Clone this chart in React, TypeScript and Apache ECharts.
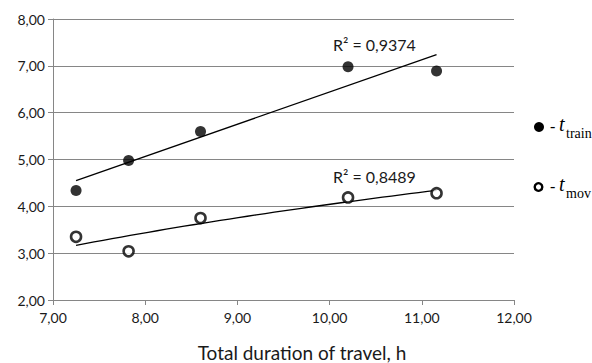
import React, { useEffect, useRef } from "react";
import * as echarts from "echarts";

const durations = [7.25, 7.82, 8.6, 10.2, 11.16];
const tTrain = [4.34, 4.98, 5.6, 6.98, 6.89];
const tMov = [3.35, 3.04, 3.75, 4.19, 4.28];
const r2Labels = ["R² = 0,9374", "R² = 0,8489"];
const legendNames = ["train", "mov"];
const xTitle = "Total duration of travel, h";

function linearFit(xs: number[], ys: number[]) {
  const n = xs.length;
  const mx = xs.reduce((a, b) => a + b, 0) / n;
  const my = ys.reduce((a, b) => a + b, 0) / n;
  let sxy = 0, sxx = 0;
  for (let i = 0; i < n; i++) { sxy += (xs[i] - mx) * (ys[i] - my); sxx += (xs[i] - mx) ** 2; }
  const b = sxy / sxx;
  return (x: number) => my + b * (x - mx);
}
function logFit(xs: number[], ys: number[]) {
  const lx = xs.map(Math.log);
  const f = linearFit(lx, ys);
  return (x: number) => f(Math.log(x));
}

export default function App() {
  const ref = useRef<HTMLDivElement>(null);
  useEffect(() => {
    const chart = echarts.init(ref.current!, null, { renderer: "svg" });
    const x0 = Math.min(...durations), x1 = Math.max(...durations);
    const lin = linearFit(durations, tTrain);
    const lg = logFit(durations, tMov);
    const steps = 40;
    const trainTrend: number[][] = [];
    const movTrend: number[][] = [];
    for (let i = 0; i <= steps; i++) {
      const x = x0 + ((x1 - x0) * i) / steps;
      if (i === 0 || i === steps) trainTrend.push([x, lin(x)]);
      movTrend.push([x, lg(x)]);
    }
    const axisColor = "#868686";
    const txt = "#1a1a1a";
    const labelFont = { fontFamily: "Lato", fontSize: 14, color: txt };
    const fmt = (v: number) => v.toFixed(2).replace(".", ",");
    const serif = "Liberation Serif";
    const legendText = (y: number, sub: string) => [
      { type: "text", left: 550, top: y - 9, style: { text: "-", font: `16px ${serif}`, fill: "#000" } },
      { type: "text", left: 559, top: y - 13, style: { text: "t", font: `italic 20px ${serif}`, fill: "#000" } },
      { type: "text", left: 566, top: y - 1, style: { text: sub, font: `14px ${serif}`, fill: "#000" } },
    ];
    chart.setOption({
      animation: false,
      grid: { left: 53, right: 78, top: 19, bottom: 63 },
      xAxis: {
        type: "value", min: 7, max: 12, interval: 1,
        axisLine: { lineStyle: { color: axisColor, width: 1 } },
        axisTick: { show: true, length: 5, lineStyle: { color: axisColor } },
        axisLabel: { ...labelFont, formatter: fmt, margin: 10 },
        splitLine: { show: false },
      },
      yAxis: {
        type: "value", min: 2, max: 8, interval: 1,
        axisLine: { show: true, lineStyle: { color: axisColor, width: 1 } },
        axisTick: { show: true, length: 5, lineStyle: { color: axisColor } },
        axisLabel: { ...labelFont, formatter: fmt, margin: 8 },
        splitLine: { show: true, lineStyle: { color: axisColor, width: 1 } },
      },
      series: [
        { type: "line", data: trainTrend, showSymbol: false, lineStyle: { color: "#000", width: 1.3 }, z: 2 },
        { type: "line", data: movTrend, showSymbol: false, smooth: false, lineStyle: { color: "#000", width: 1.3 }, z: 2 },
        {
          type: "scatter", name: "train", data: durations.map((x, i) => [x, tTrain[i]]),
          symbol: "circle", symbolSize: 11, itemStyle: { color: "#000" }, z: 3,
        },
        {
          type: "scatter", name: "mov", data: durations.map((x, i) => [x, tMov[i]]),
          symbol: "circle", symbolSize: 10, itemStyle: { color: "#fff", borderColor: "#000", borderWidth: 2.6 }, z: 3,
        },
      ],
      graphic: [
        { type: "text", x: 302, y: 352, style: { text: xTitle, font: "19px Lato", fill: txt, textAlign: "center", textVerticalAlign: "middle" } },
        { type: "text", left: 333, top: 36, style: { text: r2Labels[0], font: "16px Lato", fill: txt } },
        { type: "text", left: 333, top: 168, style: { text: r2Labels[1], font: "16px Lato", fill: txt } },
        { type: "circle", shape: { cx: 539, cy: 127, r: 5 }, style: { fill: "#000" } },
        ...legendText(127, legendNames[0]),
        { type: "circle", shape: { cx: 538.5, cy: 187, r: 3.8 }, style: { fill: "#fff", stroke: "#000", lineWidth: 2.4 } },
        ...legendText(187, legendNames[1]),
      ],
    });
    return () => chart.dispose();
  }, []);
  return <div ref={ref} style={{ width: 592, height: 363, position: "absolute", left: 0, top: 0, background: "#fff" }} />;
}
